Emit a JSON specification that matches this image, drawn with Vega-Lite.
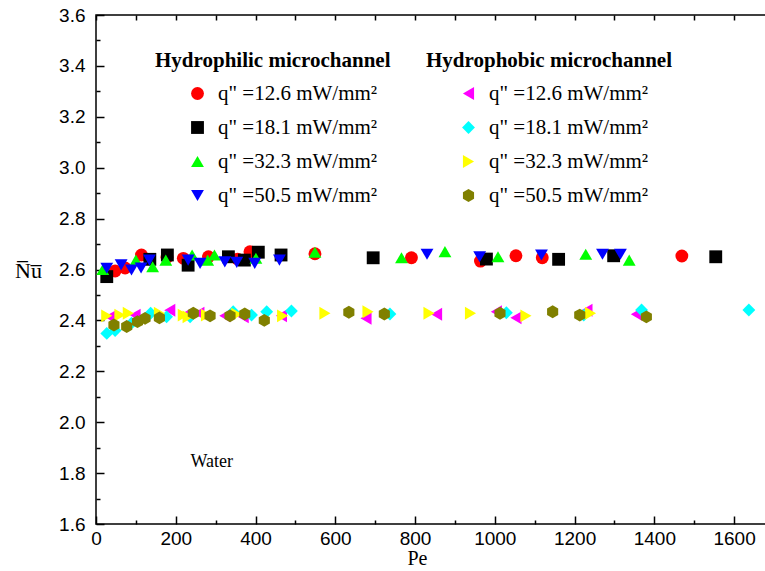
{
  "$schema": "https://vega.github.io/schema/vega-lite/v6.json",
  "width": 670,
  "height": 509,
  "autosize": {"type": "none"},
  "padding": {"left": 96, "top": 15, "right": 0, "bottom": 47},
  "background": "white",
  "config": {
    "view": {"stroke": "black", "strokeWidth": 1.5},
    "axis": {"domain": false, "grid": false, "tickColor": "black", "tickWidth": 1.5, "labelColor": "black", "titleColor": "black"},
    "legend": {
      "orient": "none", "titleFont": "Liberation Serif", "titleFontSize": 21, "titleFontWeight": "bold", "titleColor": "black", "titleLimit": 400, "titlePadding": 12,
      "labelFont": "Liberation Serif", "labelFontSize": 21, "labelColor": "black", "labelLimit": 400, "labelOffset": 10,
      "symbolSize": 165, "symbolOffset": 32, "symbolStrokeWidth": 0, "rowPadding": 12
    }
  },
  "datasets": {
    "pts": [
      {"group": "philic", "series": "q\" =12.6 mW/mm²", "Pe": 48, "Nu": 2.594},
      {"group": "philic", "series": "q\" =12.6 mW/mm²", "Pe": 73, "Nu": 2.606},
      {"group": "philic", "series": "q\" =12.6 mW/mm²", "Pe": 114, "Nu": 2.657},
      {"group": "philic", "series": "q\" =12.6 mW/mm²", "Pe": 178, "Nu": 2.648},
      {"group": "philic", "series": "q\" =12.6 mW/mm²", "Pe": 219, "Nu": 2.644},
      {"group": "philic", "series": "q\" =12.6 mW/mm²", "Pe": 282, "Nu": 2.65},
      {"group": "philic", "series": "q\" =12.6 mW/mm²", "Pe": 355, "Nu": 2.641},
      {"group": "philic", "series": "q\" =12.6 mW/mm²", "Pe": 386, "Nu": 2.67},
      {"group": "philic", "series": "q\" =12.6 mW/mm²", "Pe": 549, "Nu": 2.662},
      {"group": "philic", "series": "q\" =12.6 mW/mm²", "Pe": 791, "Nu": 2.646},
      {"group": "philic", "series": "q\" =12.6 mW/mm²", "Pe": 964, "Nu": 2.633},
      {"group": "philic", "series": "q\" =12.6 mW/mm²", "Pe": 1053, "Nu": 2.654},
      {"group": "philic", "series": "q\" =12.6 mW/mm²", "Pe": 1119, "Nu": 2.646},
      {"group": "philic", "series": "q\" =12.6 mW/mm²", "Pe": 1469, "Nu": 2.653},
      {"group": "philic", "series": "q\" =18.1 mW/mm²", "Pe": 27, "Nu": 2.572},
      {"group": "philic", "series": "q\" =18.1 mW/mm²", "Pe": 135, "Nu": 2.64},
      {"group": "philic", "series": "q\" =18.1 mW/mm²", "Pe": 179, "Nu": 2.657},
      {"group": "philic", "series": "q\" =18.1 mW/mm²", "Pe": 231, "Nu": 2.617},
      {"group": "philic", "series": "q\" =18.1 mW/mm²", "Pe": 332, "Nu": 2.65},
      {"group": "philic", "series": "q\" =18.1 mW/mm²", "Pe": 372, "Nu": 2.637},
      {"group": "philic", "series": "q\" =18.1 mW/mm²", "Pe": 407, "Nu": 2.668},
      {"group": "philic", "series": "q\" =18.1 mW/mm²", "Pe": 464, "Nu": 2.657},
      {"group": "philic", "series": "q\" =18.1 mW/mm²", "Pe": 695, "Nu": 2.646},
      {"group": "philic", "series": "q\" =18.1 mW/mm²", "Pe": 979, "Nu": 2.641},
      {"group": "philic", "series": "q\" =18.1 mW/mm²", "Pe": 1160, "Nu": 2.64},
      {"group": "philic", "series": "q\" =18.1 mW/mm²", "Pe": 1298, "Nu": 2.654},
      {"group": "philic", "series": "q\" =18.1 mW/mm²", "Pe": 1554, "Nu": 2.65},
      {"group": "philic", "series": "q\" =32.3 mW/mm²", "Pe": 17, "Nu": 2.6},
      {"group": "philic", "series": "q\" =32.3 mW/mm²", "Pe": 100, "Nu": 2.637},
      {"group": "philic", "series": "q\" =32.3 mW/mm²", "Pe": 142, "Nu": 2.611},
      {"group": "philic", "series": "q\" =32.3 mW/mm²", "Pe": 175, "Nu": 2.637},
      {"group": "philic", "series": "q\" =32.3 mW/mm²", "Pe": 241, "Nu": 2.657},
      {"group": "philic", "series": "q\" =32.3 mW/mm²", "Pe": 280, "Nu": 2.637},
      {"group": "philic", "series": "q\" =32.3 mW/mm²", "Pe": 297, "Nu": 2.657},
      {"group": "philic", "series": "q\" =32.3 mW/mm²", "Pe": 401, "Nu": 2.644},
      {"group": "philic", "series": "q\" =32.3 mW/mm²", "Pe": 549, "Nu": 2.668},
      {"group": "philic", "series": "q\" =32.3 mW/mm²", "Pe": 766, "Nu": 2.646},
      {"group": "philic", "series": "q\" =32.3 mW/mm²", "Pe": 875, "Nu": 2.67},
      {"group": "philic", "series": "q\" =32.3 mW/mm²", "Pe": 1008, "Nu": 2.65},
      {"group": "philic", "series": "q\" =32.3 mW/mm²", "Pe": 1228, "Nu": 2.66},
      {"group": "philic", "series": "q\" =32.3 mW/mm²", "Pe": 1337, "Nu": 2.637},
      {"group": "philic", "series": "q\" =50.5 mW/mm²", "Pe": 27, "Nu": 2.605},
      {"group": "philic", "series": "q\" =50.5 mW/mm²", "Pe": 63, "Nu": 2.618},
      {"group": "philic", "series": "q\" =50.5 mW/mm²", "Pe": 89, "Nu": 2.598},
      {"group": "philic", "series": "q\" =50.5 mW/mm²", "Pe": 113, "Nu": 2.606},
      {"group": "philic", "series": "q\" =50.5 mW/mm²", "Pe": 134, "Nu": 2.637},
      {"group": "philic", "series": "q\" =50.5 mW/mm²", "Pe": 231, "Nu": 2.637},
      {"group": "philic", "series": "q\" =50.5 mW/mm²", "Pe": 261, "Nu": 2.624},
      {"group": "philic", "series": "q\" =50.5 mW/mm²", "Pe": 323, "Nu": 2.63},
      {"group": "philic", "series": "q\" =50.5 mW/mm²", "Pe": 353, "Nu": 2.628},
      {"group": "philic", "series": "q\" =50.5 mW/mm²", "Pe": 398, "Nu": 2.624},
      {"group": "philic", "series": "q\" =50.5 mW/mm²", "Pe": 460, "Nu": 2.637},
      {"group": "philic", "series": "q\" =50.5 mW/mm²", "Pe": 830, "Nu": 2.66},
      {"group": "philic", "series": "q\" =50.5 mW/mm²", "Pe": 962, "Nu": 2.65},
      {"group": "philic", "series": "q\" =50.5 mW/mm²", "Pe": 1117, "Nu": 2.657},
      {"group": "philic", "series": "q\" =50.5 mW/mm²", "Pe": 1270, "Nu": 2.66},
      {"group": "philic", "series": "q\" =50.5 mW/mm²", "Pe": 1315, "Nu": 2.66},
      {"group": "phobic", "series": "q\" =12.6 mW/mm²", "Pe": 35, "Nu": 2.414},
      {"group": "phobic", "series": "q\" =12.6 mW/mm²", "Pe": 98, "Nu": 2.421},
      {"group": "phobic", "series": "q\" =12.6 mW/mm²", "Pe": 185, "Nu": 2.44},
      {"group": "phobic", "series": "q\" =12.6 mW/mm²", "Pe": 223, "Nu": 2.421},
      {"group": "phobic", "series": "q\" =12.6 mW/mm²", "Pe": 258, "Nu": 2.428},
      {"group": "phobic", "series": "q\" =12.6 mW/mm²", "Pe": 323, "Nu": 2.418},
      {"group": "phobic", "series": "q\" =12.6 mW/mm²", "Pe": 369, "Nu": 2.414},
      {"group": "phobic", "series": "q\" =12.6 mW/mm²", "Pe": 465, "Nu": 2.418},
      {"group": "phobic", "series": "q\" =12.6 mW/mm²", "Pe": 677, "Nu": 2.408},
      {"group": "phobic", "series": "q\" =12.6 mW/mm²", "Pe": 854, "Nu": 2.424},
      {"group": "phobic", "series": "q\" =12.6 mW/mm²", "Pe": 1004, "Nu": 2.434},
      {"group": "phobic", "series": "q\" =12.6 mW/mm²", "Pe": 1053, "Nu": 2.41},
      {"group": "phobic", "series": "q\" =12.6 mW/mm²", "Pe": 1231, "Nu": 2.44},
      {"group": "phobic", "series": "q\" =12.6 mW/mm²", "Pe": 1355, "Nu": 2.424},
      {"group": "phobic", "series": "q\" =18.1 mW/mm²", "Pe": 27, "Nu": 2.349},
      {"group": "phobic", "series": "q\" =18.1 mW/mm²", "Pe": 48, "Nu": 2.36},
      {"group": "phobic", "series": "q\" =18.1 mW/mm²", "Pe": 89, "Nu": 2.389},
      {"group": "phobic", "series": "q\" =18.1 mW/mm²", "Pe": 137, "Nu": 2.428},
      {"group": "phobic", "series": "q\" =18.1 mW/mm²", "Pe": 177, "Nu": 2.414},
      {"group": "phobic", "series": "q\" =18.1 mW/mm²", "Pe": 236, "Nu": 2.414},
      {"group": "phobic", "series": "q\" =18.1 mW/mm²", "Pe": 344, "Nu": 2.434},
      {"group": "phobic", "series": "q\" =18.1 mW/mm²", "Pe": 390, "Nu": 2.421},
      {"group": "phobic", "series": "q\" =18.1 mW/mm²", "Pe": 428, "Nu": 2.434},
      {"group": "phobic", "series": "q\" =18.1 mW/mm²", "Pe": 490, "Nu": 2.437},
      {"group": "phobic", "series": "q\" =18.1 mW/mm²", "Pe": 737, "Nu": 2.425},
      {"group": "phobic", "series": "q\" =18.1 mW/mm²", "Pe": 1029, "Nu": 2.43},
      {"group": "phobic", "series": "q\" =18.1 mW/mm²", "Pe": 1223, "Nu": 2.421},
      {"group": "phobic", "series": "q\" =18.1 mW/mm²", "Pe": 1368, "Nu": 2.441},
      {"group": "phobic", "series": "q\" =18.1 mW/mm²", "Pe": 1637, "Nu": 2.441},
      {"group": "phobic", "series": "q\" =32.3 mW/mm²", "Pe": 27, "Nu": 2.418},
      {"group": "phobic", "series": "q\" =32.3 mW/mm²", "Pe": 60, "Nu": 2.421},
      {"group": "phobic", "series": "q\" =32.3 mW/mm²", "Pe": 81, "Nu": 2.428},
      {"group": "phobic", "series": "q\" =32.3 mW/mm²", "Pe": 159, "Nu": 2.428},
      {"group": "phobic", "series": "q\" =32.3 mW/mm²", "Pe": 219, "Nu": 2.421},
      {"group": "phobic", "series": "q\" =32.3 mW/mm²", "Pe": 231, "Nu": 2.414},
      {"group": "phobic", "series": "q\" =32.3 mW/mm²", "Pe": 277, "Nu": 2.421},
      {"group": "phobic", "series": "q\" =32.3 mW/mm²", "Pe": 353, "Nu": 2.424},
      {"group": "phobic", "series": "q\" =32.3 mW/mm²", "Pe": 468, "Nu": 2.418},
      {"group": "phobic", "series": "q\" =32.3 mW/mm²", "Pe": 574, "Nu": 2.428},
      {"group": "phobic", "series": "q\" =32.3 mW/mm²", "Pe": 682, "Nu": 2.434},
      {"group": "phobic", "series": "q\" =32.3 mW/mm²", "Pe": 835, "Nu": 2.428},
      {"group": "phobic", "series": "q\" =32.3 mW/mm²", "Pe": 939, "Nu": 2.428},
      {"group": "phobic", "series": "q\" =32.3 mW/mm²", "Pe": 1078, "Nu": 2.418},
      {"group": "phobic", "series": "q\" =32.3 mW/mm²", "Pe": 1240, "Nu": 2.428},
      {"group": "phobic", "series": "q\" =50.5 mW/mm²", "Pe": 45, "Nu": 2.382},
      {"group": "phobic", "series": "q\" =50.5 mW/mm²", "Pe": 77, "Nu": 2.376},
      {"group": "phobic", "series": "q\" =50.5 mW/mm²", "Pe": 104, "Nu": 2.395},
      {"group": "phobic", "series": "q\" =50.5 mW/mm²", "Pe": 123, "Nu": 2.408},
      {"group": "phobic", "series": "q\" =50.5 mW/mm²", "Pe": 159, "Nu": 2.41},
      {"group": "phobic", "series": "q\" =50.5 mW/mm²", "Pe": 244, "Nu": 2.428},
      {"group": "phobic", "series": "q\" =50.5 mW/mm²", "Pe": 286, "Nu": 2.418},
      {"group": "phobic", "series": "q\" =50.5 mW/mm²", "Pe": 336, "Nu": 2.418},
      {"group": "phobic", "series": "q\" =50.5 mW/mm²", "Pe": 373, "Nu": 2.425},
      {"group": "phobic", "series": "q\" =50.5 mW/mm²", "Pe": 422, "Nu": 2.4},
      {"group": "phobic", "series": "q\" =50.5 mW/mm²", "Pe": 634, "Nu": 2.432},
      {"group": "phobic", "series": "q\" =50.5 mW/mm²", "Pe": 723, "Nu": 2.425},
      {"group": "phobic", "series": "q\" =50.5 mW/mm²", "Pe": 1013, "Nu": 2.428},
      {"group": "phobic", "series": "q\" =50.5 mW/mm²", "Pe": 1145, "Nu": 2.434},
      {"group": "phobic", "series": "q\" =50.5 mW/mm²", "Pe": 1213, "Nu": 2.421},
      {"group": "phobic", "series": "q\" =50.5 mW/mm²", "Pe": 1380, "Nu": 2.414}
    ],
    "notes": [{"Pe": 290, "Nu": 1.845, "label": "Water"}]
  },
  "layer": [
    {
      "data": {"name": "pts"},
      "transform": [{"filter": "datum.group === 'philic'"}],
      "mark": {"type": "point", "filled": true, "size": 165, "opacity": 1},
      "encoding": {
        "x": {
          "field": "Pe", "type": "quantitative",
          "scale": {"domain": [0, 1680], "nice": false, "zero": false},
          "axis": {
            "orient": "bottom", "values": [0, 200, 400, 600, 800, 1000, 1200, 1400, 1600], "format": "d",
            "tickSize": -8, "labelPadding": 13, "labelFont": "Liberation Sans", "labelFontSize": 19,
            "labelFlush": false, "labelOverlap": false,
            "title": "Pe", "titleFont": "Liberation Serif", "titleFontSize": 20, "titleFontWeight": "normal",
            "titleX": 321, "titleY": 34, "titleBaseline": "middle", "titleAlign": "center"
          }
        },
        "y": {
          "field": "Nu", "type": "quantitative",
          "scale": {"domain": [1.6, 3.6], "nice": false, "zero": false},
          "axis": {
            "orient": "left", "values": [1.6, 1.8, 2.0, 2.2, 2.4, 2.6, 2.8, 3.0, 3.2, 3.4, 3.6], "format": ".1f",
            "tickSize": -8, "labelPadding": 19, "labelFont": "Liberation Sans", "labelFontSize": 19,
            "labelFlush": false, "labelOverlap": false,
            "title": "N̅u̅", "titleFont": "Liberation Serif", "titleFontSize": 22, "titleFontWeight": "normal",
            "titleAngle": 0, "titleX": -68, "titleY": 255, "titleAlign": "center", "titleBaseline": "middle"
          }
        },
        "color": {
          "field": "series", "type": "nominal",
          "scale": {"domain": ["q\" =12.6 mW/mm²", "q\" =18.1 mW/mm²", "q\" =32.3 mW/mm²", "q\" =50.5 mW/mm²"], "range": ["#ff0000", "#000000", "#00ff00", "#0000ff"]},
          "legend": {"orient": "none", "legendX": 59, "legendY": 35, "title": "Hydrophilic microchannel"}
        },
        "shape": {
          "field": "series", "type": "nominal",
          "scale": {"domain": ["q\" =12.6 mW/mm²", "q\" =18.1 mW/mm²", "q\" =32.3 mW/mm²", "q\" =50.5 mW/mm²"], "range": ["circle", "square", "triangle-up", "triangle-down"]},
          "legend": {"orient": "none", "legendX": 59, "legendY": 35, "title": "Hydrophilic microchannel"}
        }
      }
    },
    {
      "data": {"name": "pts"},
      "transform": [{"filter": "datum.group === 'phobic'"}],
      "mark": {"type": "point", "filled": true, "size": 165, "opacity": 1},
      "encoding": {
        "x": {
          "field": "Pe", "type": "quantitative",
          "axis": {"orient": "bottom", "values": [100, 300, 500, 700, 900, 1100, 1300, 1500], "tickSize": -4, "labels": false, "title": null}
        },
        "y": {
          "field": "Nu", "type": "quantitative",
          "axis": {"orient": "left", "values": [1.7, 1.9, 2.1, 2.3, 2.5, 2.7, 2.9, 3.1, 3.3, 3.5], "tickSize": -4, "labels": false, "title": null}
        },
        "color": {
          "field": "series", "type": "nominal",
          "scale": {"domain": ["q\" =12.6 mW/mm²", "q\" =18.1 mW/mm²", "q\" =32.3 mW/mm²", "q\" =50.5 mW/mm²"], "range": ["#ff00ff", "#00ffff", "#ffff00", "#808000"]},
          "legend": {"orient": "none", "legendX": 330, "legendY": 35, "title": "Hydrophobic microchannel"}
        },
        "shape": {
          "field": "series", "type": "nominal",
          "scale": {"domain": ["q\" =12.6 mW/mm²", "q\" =18.1 mW/mm²", "q\" =32.3 mW/mm²", "q\" =50.5 mW/mm²"], "range": ["triangle-left", "diamond", "triangle-right", "M0,-1L0.866,-0.5L0.866,0.5L0,1L-0.866,0.5L-0.866,-0.5Z"]},
          "legend": {"orient": "none", "legendX": 330, "legendY": 35, "title": "Hydrophobic microchannel"}
        }
      }
    },
    {
      "data": {"name": "notes"},
      "mark": {"type": "text", "font": "Liberation Serif", "fontSize": 18, "align": "center", "baseline": "middle", "color": "black"},
      "encoding": {
        "x": {
          "field": "Pe", "type": "quantitative",
          "axis": {"orient": "top", "values": [0, 100, 200, 300, 400, 500, 600, 700, 800, 900, 1000, 1100, 1200, 1300, 1400, 1500, 1600], "tickSize": -5, "labels": false, "title": null}
        },
        "y": {"field": "Nu", "type": "quantitative", "axis": null},
        "text": {"field": "label"}
      }
    }
  ],
  "resolve": {
    "scale": {"color": "independent", "shape": "independent"},
    "axis": {"x": "independent", "y": "independent"}
  }
}
